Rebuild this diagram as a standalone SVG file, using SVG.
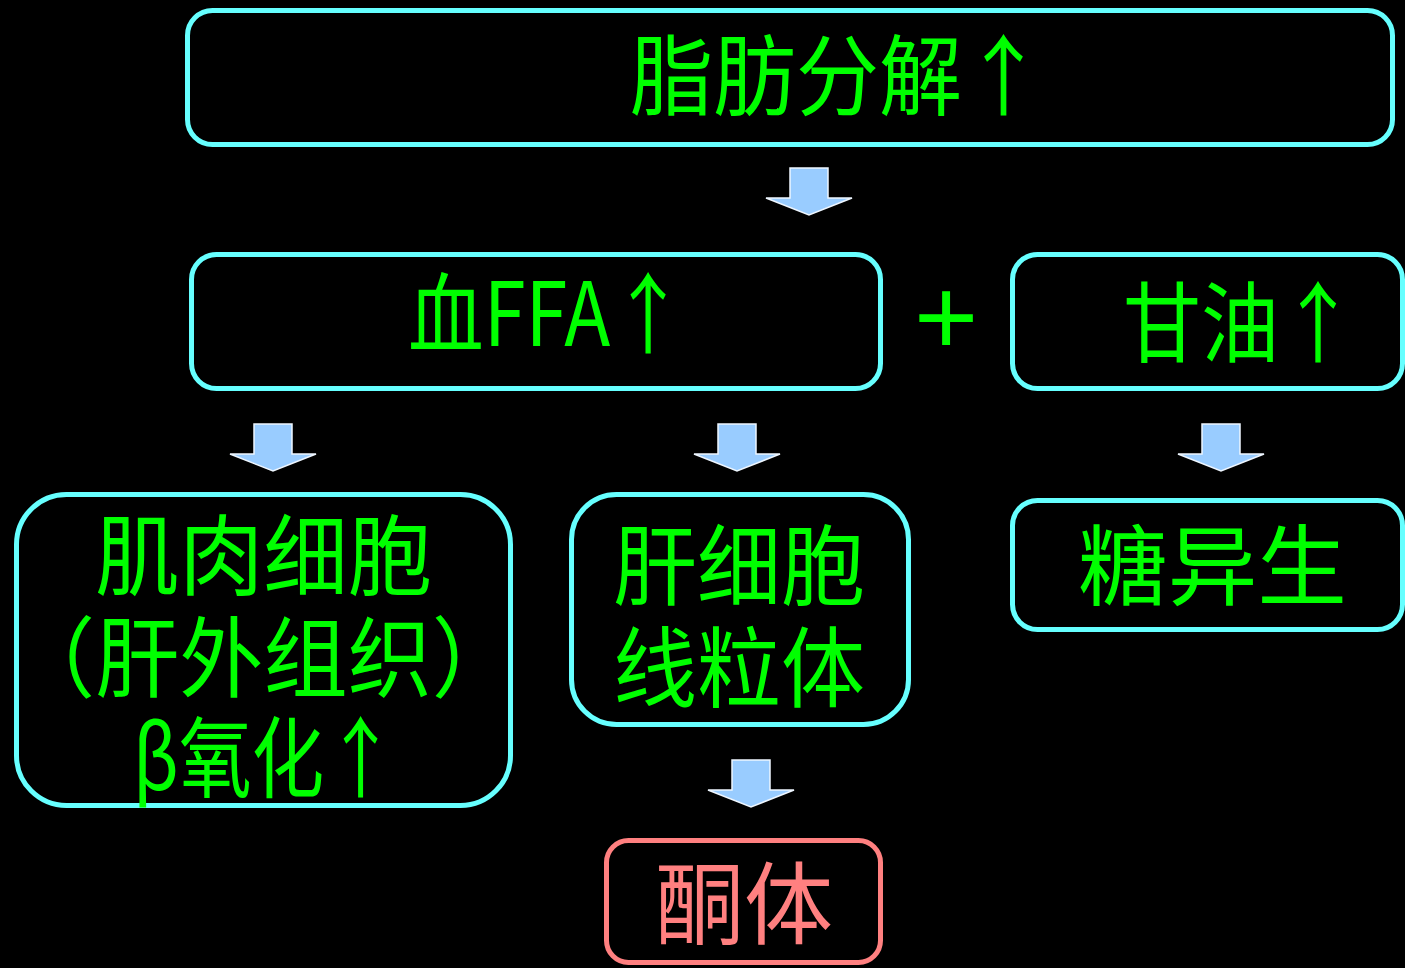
<svg xmlns="http://www.w3.org/2000/svg" xmlns:xlink="http://www.w3.org/1999/xlink" width="1405" height="968" viewBox="0 0 1405 968">
<style>
.box{fill:#000;stroke:#66FFFF;stroke-width:5}
.pbox{fill:#000;stroke:#FF8080;stroke-width:5}
.t{fill:#00FF00;font-family:"Noto Sans CJK SC","Noto Sans",sans-serif;font-size:88px}
.p{fill:#FF8080;font-family:"Noto Sans CJK SC","Noto Sans",sans-serif;font-size:90px}
.arr{fill:#99CCFF;stroke:#EEF6FF;stroke-width:1.5}
</style>
<defs>
<path id="down" class="arr" d="M-19,0 H19 V30 H43 L0,47 L-43,30 H-19 Z"/>
</defs>
<rect width="1405" height="968" fill="#000"/>
<g id="connectors">
<use xlink:href="#down" x="809" y="168"/>
<use xlink:href="#down" x="273" y="424"/>
<use xlink:href="#down" x="737" y="424"/>
<use xlink:href="#down" x="1221" y="424"/>
<use xlink:href="#down" x="751" y="760"/>
<text x="946" y="355" text-anchor="middle" style="fill:#00FF00;font-family:'Liberation Sans',sans-serif;font-size:110px">+</text>
</g>
<g id="n1">
<rect class="box" x="187.5" y="10.5" width="1205" height="134" rx="25"/>
<text class="t" x="630" y="108" font-size="92" textLength="415" lengthAdjust="spacingAndGlyphs">脂肪分解↑</text>
</g>
<g id="n2">
<rect class="box" x="191.5" y="254.5" width="689" height="134" rx="25"/>
<text class="t" x="408" y="346" font-size="84" textLength="278" lengthAdjust="spacingAndGlyphs">血FFA↑</text>
</g>
<g id="n3">
<rect class="box" x="1012.5" y="254.5" width="390" height="134" rx="25"/>
<text class="t" x="1123" y="355" font-size="90" textLength="234" lengthAdjust="spacingAndGlyphs">甘油↑</text>
</g>
<g id="n4">
<rect class="box" x="16.5" y="494.5" width="494" height="311" rx="50"/>
<text class="t" x="95" y="588" textLength="337" lengthAdjust="spacingAndGlyphs">肌肉细胞</text>
<text class="t" x="11" y="690" textLength="505" lengthAdjust="spacingAndGlyphs">（肝外组织）</text>
<text class="t" x="133" y="790" textLength="264" lengthAdjust="spacingAndGlyphs">β氧化↑</text>
</g>
<g id="n5">
<rect class="box" x="571.5" y="494.5" width="337" height="230" rx="45"/>
<text class="t" x="613" y="598" textLength="252" lengthAdjust="spacingAndGlyphs">肝细胞</text>
<text class="t" x="613" y="700" textLength="252" lengthAdjust="spacingAndGlyphs">线粒体</text>
</g>
<g id="n6">
<rect class="box" x="1012.5" y="500.5" width="390" height="129" rx="25"/>
<text class="t" x="1078" y="598" font-size="90" textLength="269" lengthAdjust="spacingAndGlyphs">糖异生</text>
</g>
<g id="n7">
<rect class="pbox" x="606.5" y="840.5" width="274" height="122" rx="22"/>
<text class="p" x="655" y="937" textLength="178" lengthAdjust="spacingAndGlyphs">酮体</text>
</g>
</svg>
